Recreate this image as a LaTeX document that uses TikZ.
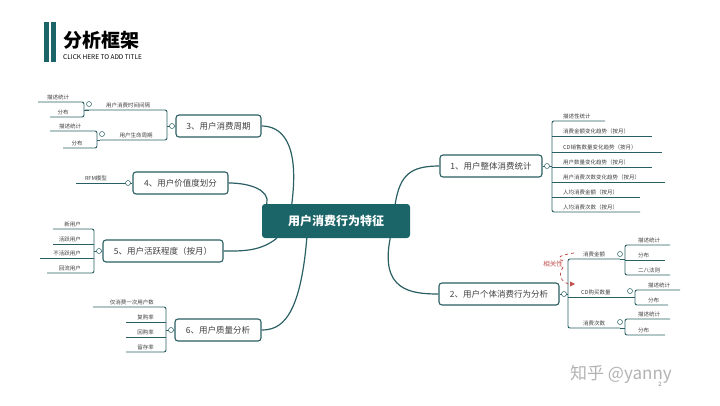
\documentclass[tikz,border=0pt]{standalone}
\usepackage{fontspec}
\setmainfont{Noto Sans CJK SC}
\usetikzlibrary{arrows.meta}
\definecolor{teal1}{HTML}{1B6467}
\definecolor{line1}{HTML}{2A5F63}
\definecolor{redc}{HTML}{C0504D}
\tikzset{
 main/.style={draw=line1,line width=1.1pt,rounded corners=3pt,fill=white,font=\fontsize{8.5}{9}\selectfont,text=black!75,inner sep=0pt,anchor=center},
 lbl/.style={font=\fontsize{5.5}{6}\selectfont,text=black!75,inner sep=1pt,anchor=south},
 ln/.style={draw=line1,line width=0.9pt},
 br/.style={draw=line1,line width=0.9pt,rounded corners=2pt},
 cc/.style={circle,draw=line1,line width=0.5pt,fill=white,minimum size=5pt,inner sep=0pt},
 conn/.style={draw=line1,line width=1.2pt},
}
\begin{document}
\begin{tikzpicture}[x=1pt,y=-1pt]
\useasboundingbox (0,0) rectangle (720,405);
% title
\fill[teal1] (44,22) rectangle (49,62);
\fill[teal1] (51,22) rectangle (56,62);
\node[anchor=west,font=\fontsize{19}{20}\selectfont\bfseries,inner sep=0] (t) at (63,40) {分析框架};
\node[anchor=west,font=\fontsize{6.5}{7}\selectfont,inner sep=0] (st) at (63,57) {CLICK HERE TO ADD TITLE};
% center
\node[fill=teal1,rounded corners=3pt,minimum width=148pt,minimum height=34pt,text=white,font=\fontsize{12}{13}\selectfont\bfseries] (c) at (336,221) {用户消费行为特征};
% main nodes
\node[main,minimum width=102pt,minimum height=22pt] (n1) at (491,166) {1、用户整体消费统计};
\node[main,minimum width=120pt,minimum height=22pt] (n2) at (499,294) {2、用户个体消费行为分析};
\node[main,minimum width=85pt,minimum height=22pt] (n3) at (218.5,126) {3、用户消费周期};
\node[main,minimum width=95pt,minimum height=22pt] (n4) at (180.5,183) {4、用户价值度划分};
\node[main,minimum width=120pt,minimum height=22pt] (n5) at (163,251) {5、用户活跃程度（按月）};
\node[main,minimum width=86pt,minimum height=22pt] (n6) at (218,330) {6、用户质量分析};
% connectors
\draw[conn] (c.north east) ++(-15,0) coordinate (c1) .. controls (400,175) and (410,166) .. (n1.west);
\draw[conn] (c.south east) ++(-20,0) coordinate (c2) .. controls (380,290) and (410,294) .. (n2.west);
\draw[conn] (c.north west) ++(30,0) coordinate (c3) .. controls (300,140) and (280,126) .. (n3.east);
\draw[conn] (c.north west) ++(5,0) coordinate (c4) .. controls (270,190) and (250,183) .. (n4.east);
\draw[conn] (c.south west) ++(15,0) coordinate (c5) .. controls (260,252) and (240,251) .. (n5.east);
\draw[conn] (c.south west) ++(45,0) coordinate (c6) .. controls (300,320) and (280,330) .. (n6.east);
% node 1 items
\draw[ln] (n1.east) -- (552,166);
\draw[br] (605,121) -- (552,121) -- (552,212) -- (640,212);
\foreach \y/\e/\t in {136/652/消费金额变化趋势（按月）,152/662/CD销售数量变化趋势（按月）,167/652/用户数量变化趋势（按月）,182/665/用户消费次数变化趋势（按月）,197/640/人均消费金额（按月）}
  \draw[ln] (552,\y) -- (\e,\y);
\foreach \y/\t in {121/描述性统计,136/消费金额变化趋势（按月）,152/CD销售数量变化趋势（按月）,167/用户数量变化趋势（按月）,182/用户消费次数变化趋势（按月）,197/人均消费金额（按月）,212/人均消费次数（按月）}
  \node[lbl,anchor=south west] at (562,\y-1) {\t};
\node[cc] (k1) at (547,166) {};
% node 2
\draw[ln] (n2.east) -- (568,294);
\draw[br] (620,259) -- (568,259) -- (568,328) -- (620,328);
\draw[ln] (568,297) -- (630,297);
\node[lbl,anchor=south west] (a1) at (582,258) {消费金额};
\node[lbl,anchor=south west] (a2) at (580,296) {CD购买数量};
\node[lbl,anchor=south west] (a3) at (582,327) {消费次数};
\draw[br] (670,245) -- (625,245) -- (625,275) -- (670,275); \draw[ln] (625,260) -- (665,260);
\draw[ln] (620,259) -- (625,259);
\node[cc] at (620,254) {};
\node[lbl,anchor=south west] at (637,244) {描述统计};
\node[lbl,anchor=south west] at (637,259) {分布};
\node[lbl,anchor=south west] at (637,274) {二八法则};
\draw[br] (680,290) -- (635,290) -- (635,305) -- (668,305); \draw[ln] (630,297) -- (635,297);
\node[cc] at (630,291) {};
\node[lbl,anchor=south west] at (647,289) {描述统计};
\node[lbl,anchor=south west] at (647,304) {分布};
\draw[br] (670,319) -- (625,319) -- (625,335) -- (665,335); \draw[ln] (620,328) -- (625,328);
\node[cc] at (620,322) {};
\node[lbl,anchor=south west] at (637,318) {描述统计};
\node[lbl,anchor=south west] at (637,334) {分布};
\node[cc] (k2) at (564,294) {};
% correlation arrow
\node[font=\fontsize{6.5}{7}\selectfont,text=redc,inner sep=0] (rel) at (553,264) {相关性};
\draw[redc,dashed,line width=0.8pt,-{Triangle[length=5pt,width=5pt]}] (574,253) .. controls (560,255) and (555,258) .. (rel.north east) (rel.south east) .. controls (556,278) and (565,284) .. (575,284);
% node 3
\draw[ln] (n3.west) -- (167,126);
\draw[br] (85,110) -- (167,110) -- (167,140) -- (100,140);
\node[lbl] at (128,109) {用户消费时间间隔};
\node[lbl] at (136,139) {用户生命周期};
\draw[br] (38,102) -- (84,102) -- (84,117) -- (50,117); \draw[ln] (84,110) -- (89,110);
\node[cc] at (89,104) {};
\node[lbl] at (58,101) {描述统计};
\node[lbl] at (63,116) {分布};
\draw[br] (50,131) -- (97,131) -- (97,148) -- (63,148); \draw[ln] (97,140) -- (100,140);
\node[cc] at (102,134) {};
\node[lbl] at (70,130) {描述统计};
\node[lbl] at (77,147) {分布};
\node[cc] (k3) at (172,126) {};
% node 4
\draw[ln] (76,183) -- (n4.west);
\node[lbl] at (96,182) {RFM模型};
\node[cc] (k4) at (128,183) {};
% node 5
\draw[ln] (n5.west) -- (94,251);
\draw[br] (53,229) -- (94,229) -- (94,273) -- (47,273);
\draw[ln] (53,244) -- (94,244); \draw[ln] (40,258) -- (94,258);
\foreach \y/\t in {229/新用户,244/活跃用户,258/不活跃用户,273/回流用户}
  \node[lbl,anchor=south east] at (82,\y-1) {\t};
\node[cc] (k5) at (99,251) {};
% node 6
\draw[ln] (n6.west) -- (166,330);
\draw[br] (93,307) -- (166,307) -- (166,352) -- (126,352);
\draw[ln] (126,322) -- (166,322); \draw[ln] (126,337) -- (166,337);
\foreach \y/\t in {307/仅消费一次用户数,322/复购率,337/回购率,352/留存率}
  \node[lbl,anchor=south east] at (155,\y-1) {\t};
\node[cc] (k6) at (171,330) {};
% watermark
\node[anchor=west,font=\fontsize{17}{18}\selectfont,text=black!30,inner sep=0] (wm) at (570,374) {知乎 @yanny};
\node[font=\fontsize{6}{6}\selectfont,text=black!50,inner sep=0] (pg) at (660,384) {2};
\end{tikzpicture}
\end{document}
